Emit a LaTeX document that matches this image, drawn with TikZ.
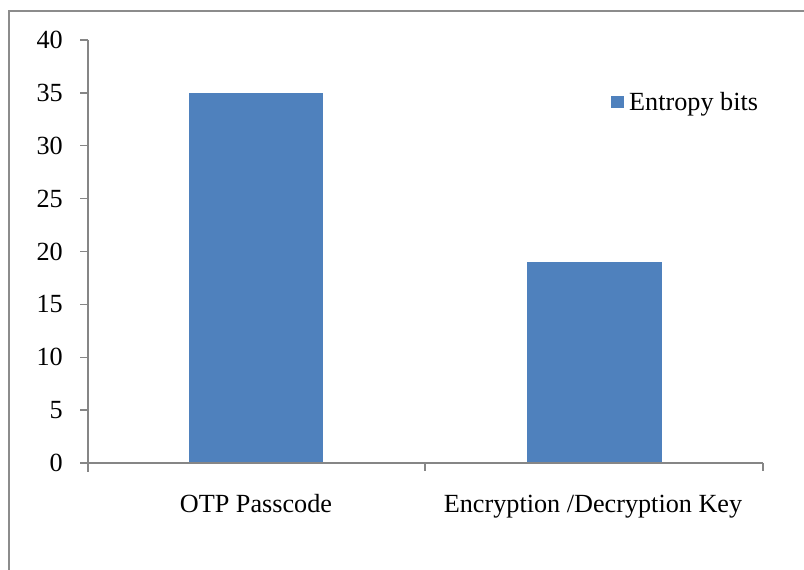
\documentclass[tikz,border=0pt]{standalone}
\usepackage{fontspec}
\setmainfont{Liberation Serif}
\definecolor{barblue}{HTML}{4F81BD}
\definecolor{axisgray}{HTML}{868686}
\definecolor{framegray}{HTML}{8C8C8C}
\begin{document}
\begin{tikzpicture}[x=1pt,y=-1pt,
  bar/.style={fill=barblue,draw=none},
  axisline/.style={draw=axisgray,line width=1.3pt},
  ylab/.style={anchor=base east,inner sep=0pt,font=\fontsize{26.2}{29}\selectfont},
  xlab/.style={anchor=base,inner sep=0pt,font=\fontsize{26.2}{29}\selectfont}]
\useasboundingbox (0,0) rectangle (804,570);
\fill[white] (0,0) rectangle (804,570);
% outer frame
\draw[framegray,line width=2.2pt] (9,590) -- (9,11) -- (820,11);
% bars
\fill[bar] (189,463) rectangle (323,93);
\fill[bar] (527,463) rectangle (662,262);
% axes
\draw[axisline] (88,40) -- (88,472);
\draw[axisline] (80,463) -- (763,463);
\foreach \v [count=\i from 0] in {0,5,...,40} {
  \draw[axisline] (80,{463-\i*52.875}) -- (88,{463-\i*52.875});
  \node[ylab] (y\i) at (63,{463-\i*52.875+8.5}) {\v};
}
\draw[axisline] (425,463) -- (425,471);
\draw[axisline] (763,463) -- (763,471);
% category labels
\node[xlab] (c1) at (256,512) {OTP Passcode};
\node[xlab] (c2) at (593,512) {Encryption /Decryption Key};
% legend
\fill[barblue] (611,96) rectangle (624,108);
\node[anchor=base west,inner sep=0pt,font=\fontsize{26.2}{29}\selectfont] (leg) at (629,110) {Entropy bits};
\end{tikzpicture}
\end{document}
